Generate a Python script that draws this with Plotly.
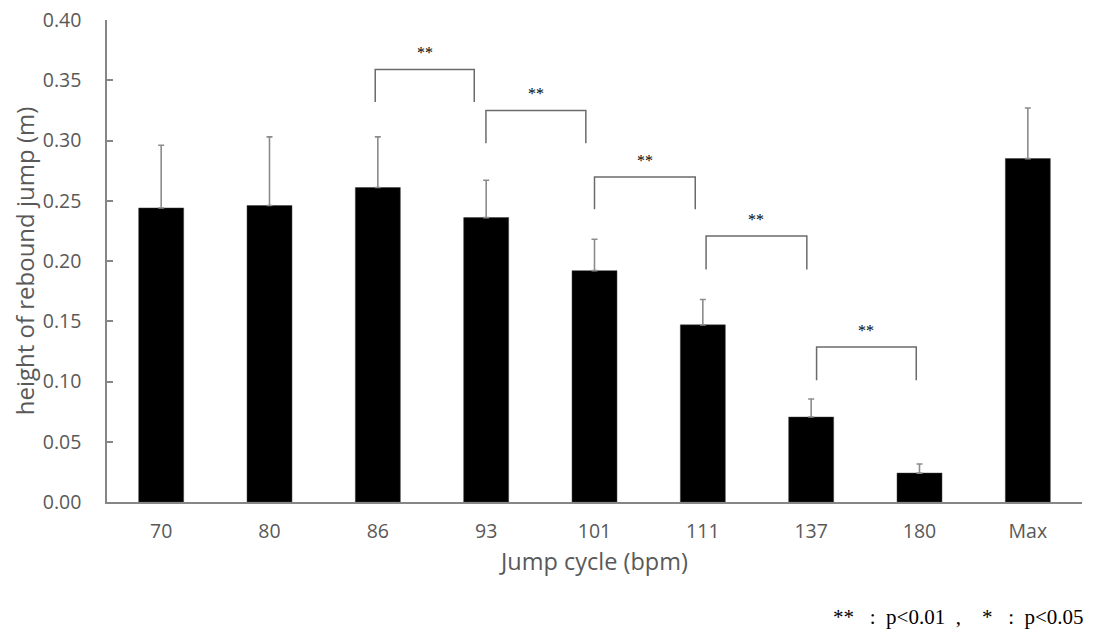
import plotly.graph_objects as go

categories = ["70", "80", "86", "93", "101", "111", "137", "180", "Max"]
means = [0.244, 0.246, 0.261, 0.236, 0.192, 0.147, 0.0705, 0.024, 0.285]
sd_upper = [0.052, 0.057, 0.042, 0.031, 0.026, 0.021, 0.015, 0.0075, 0.042]

# significance brackets: (left category index, right category index, top value, leg bottom value, label)
bracket_left = [1.976, 2.998, 4.0, 5.03, 6.05]
bracket_right = [2.89, 3.92, 4.93, 5.96, 6.97]
bracket_top = [0.359, 0.325, 0.2697, 0.2207, 0.1286]
bracket_bottom = [0.332, 0.2977, 0.243, 0.193, 0.101]
bracket_labels = ["**", "**", "**", "**", "**"]

N = "\u00a0"   # no-break space
footnote = ("**" + N * 3 + ":" + N * 2 + "p&lt;0.01" + N * 2 + "," + N * 4 +
            "*" + N * 3 + ":" + N * 2 + "p&lt;0.05")

grey = "#595959"
axis_grey = "#868686"
font_family = "'Open Sans', Lato, sans-serif"
serif = "'Liberation Serif', 'Times New Roman', serif"

fig = go.Figure()
fig.add_trace(go.Bar(
    x=categories,
    y=means,
    marker=dict(color="black", line=dict(color="#3a3a3a", width=0.5)),
    error_y=dict(type="data", symmetric=False, array=sd_upper,
                 arrayminus=[0] * len(sd_upper),
                 color="#8c8c8c", thickness=1.6, width=3),
    showlegend=False,
))

shapes = []
annotations = []
for xl, xr, yt, yb, lab in zip(bracket_left, bracket_right, bracket_top, bracket_bottom, bracket_labels):
    shapes.append(dict(type="path", xref="x", yref="y",
                       path=f"M {xl},{yb} L {xl},{yt} L {xr},{yt} L {xr},{yb}",
                       line=dict(color="#6b6b6b", width=1.5)))
    annotations.append(dict(x=(xl + xr) / 2, y=yt, xref="x", yref="y",
                            text=lab, showarrow=False, yanchor="bottom", yshift=6,
                            font=dict(family=serif, size=16, color="black")))

annotations.append(dict(x=1, y=0, xref="paper", yref="paper", xanchor="right",
                        yanchor="middle", yshift=-115, xshift=4,
                        text=footnote, showarrow=False,
                        font=dict(family=serif, size=21, color="black")))

fig.update_layout(
    width=1087, height=622,
    margin=dict(l=99, r=13, t=12, b=128),
    plot_bgcolor="white", paper_bgcolor="white",
    bargap=0.585,
    shapes=shapes,
    annotations=annotations,
    font=dict(family=font_family, color=grey),
    xaxis=dict(
        type="category", automargin=False,
        showline=True, linecolor=axis_grey, linewidth=1.5,
        ticks="", showgrid=False, zeroline=False,
        tickfont=dict(size=19.5, color=grey, family=font_family),
        ticklabelstandoff=11,
        title=dict(text="Jump cycle (bpm)", font=dict(size=23.5, color=grey, family=font_family), standoff=10),
    ),
    yaxis=dict(
        range=[0, 0.4], dtick=0.05, tickformat=".2f", automargin=False,
        showline=True, linecolor=axis_grey, linewidth=1.5,
        ticks="inside", ticklen=6, tickcolor=axis_grey, tickwidth=1.5,
        showgrid=False, zeroline=False, ticklabeloverflow="allow",
        tickfont=dict(size=19.5, color=grey, family=font_family),
        ticklabelstandoff=20,
        title=dict(text="height of rebound jump (m)", font=dict(size=24, color=grey, family=font_family), standoff=3),
    ),
)

fig.write_html("out.html")
